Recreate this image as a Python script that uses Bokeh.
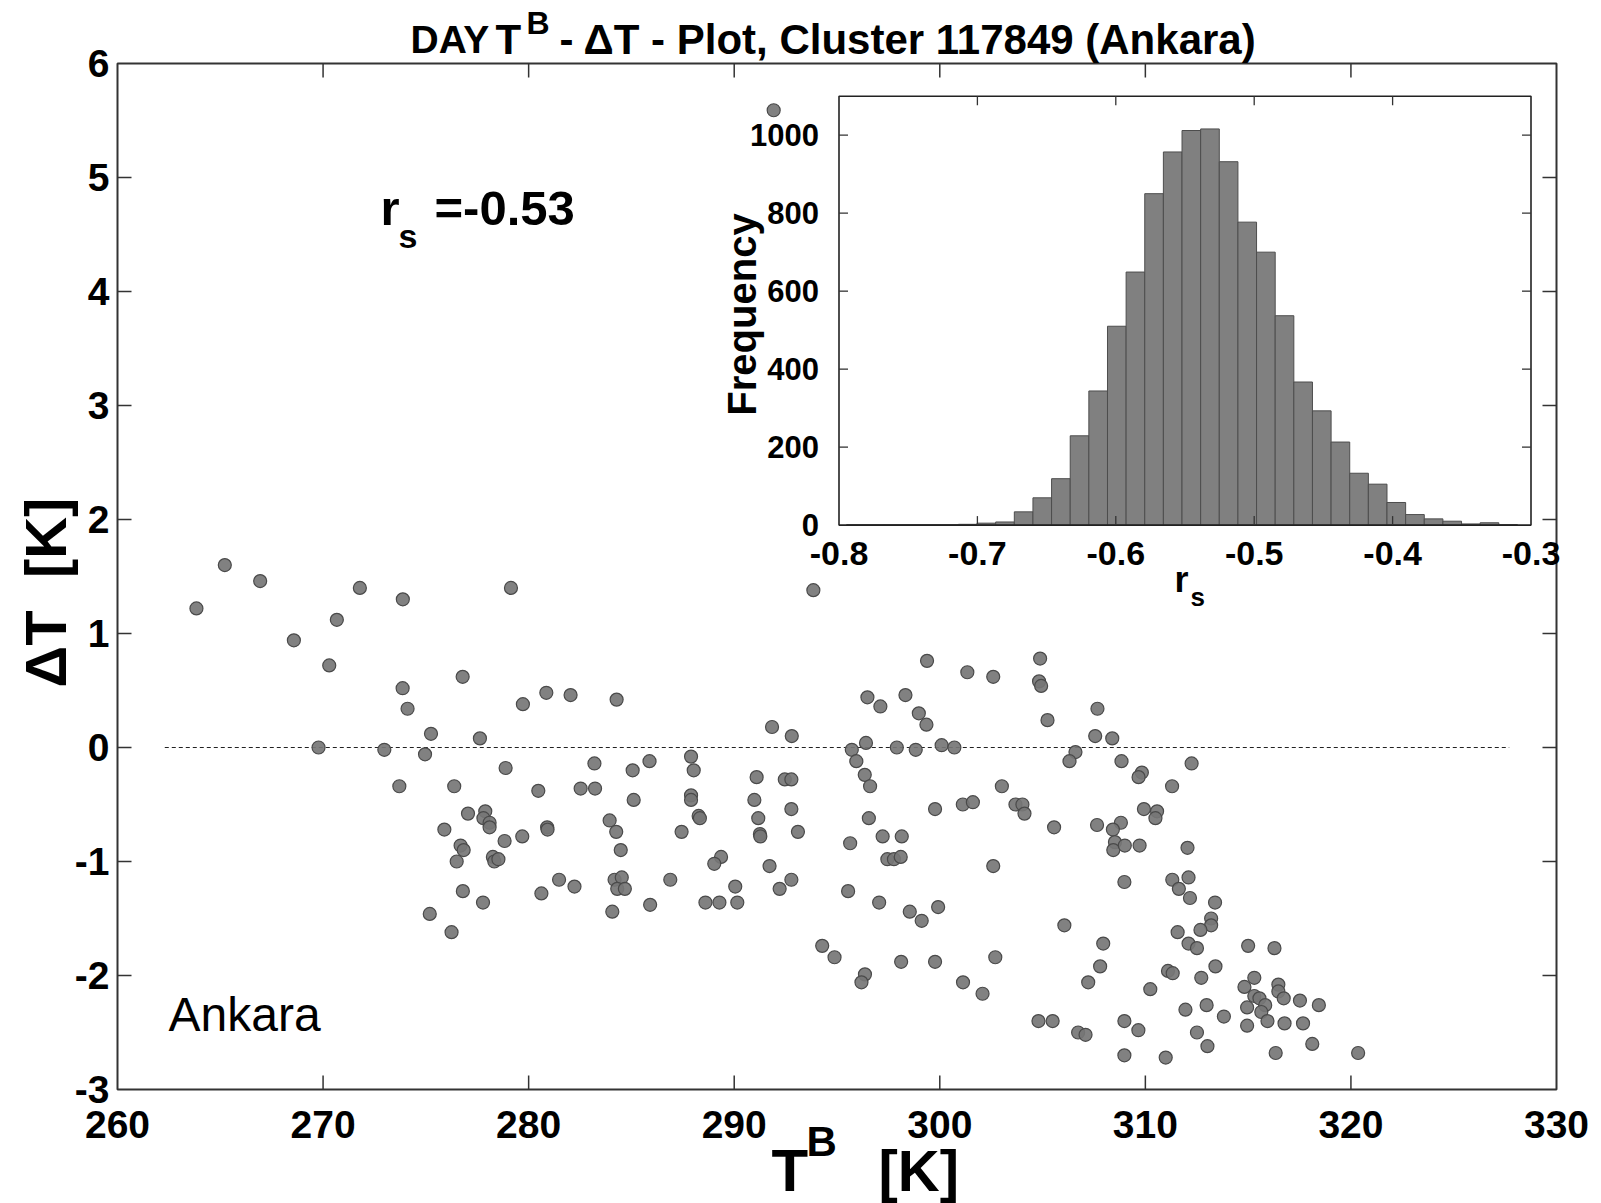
import numpy as np
from bokeh.plotting import figure
from bokeh.models import Range1d
from bokeh.core.properties import value
from bokeh.embed import file_html
from bokeh.resources import INLINE

# ---------------- data ----------------
tb = [263.84, 265.22, 266.94, 268.58, 270.67, 270.30, 271.79, 273.88, 269.78, 272.98,
      273.87, 274.11, 275.25, 274.96, 273.71, 276.79, 277.63, 279.14, 279.72, 280.86,
      278.88, 276.38, 280.47, 277.05, 277.89, 277.80, 278.10, 278.10, 275.90, 278.83,
      279.69, 276.69, 276.84, 276.50, 278.26, 278.33, 278.53, 280.90, 280.92, 276.80,
      277.78, 280.62, 275.19, 276.25,
      281.48, 282.23, 284.18, 284.53, 284.31, 284.68, 284.07, 285.91, 286.89,
      293.85, 282.04, 284.28, 283.20, 282.53, 283.23, 285.06, 285.88, 285.11, 283.94,
      284.26, 284.48, 287.90, 288.03, 287.90, 287.90, 288.27, 288.33, 287.44, 289.36,
      289.03, 288.60, 289.28, 290.15, 290.05, 291.09, 290.98, 291.17, 291.25, 291.27,
      291.84, 292.80, 292.46, 292.78, 292.78, 293.10, 291.72, 292.78, 292.21, 295.72,
      296.41, 295.94, 296.35, 296.61, 296.48, 297.11, 298.33, 298.98, 299.35, 299.38,
      301.34, 297.91, 298.83, 300.09, 300.71, 296.55, 295.64, 297.22, 298.15, 297.45,
      297.77, 298.10, 299.77, 301.12, 301.61, 295.54, 297.05, 298.54, 299.12, 299.92,
      302.60, 302.60,
      294.28, 294.88, 296.36, 296.19, 298.12, 299.77, 302.70, 301.13, 302.08, 304.80,
      305.49, 306.73, 307.09, 306.06, 307.95, 307.80, 307.22, 308.98, 308.98, 309.66,
      308.98, 310.99, 311.31, 312.10, 311.63, 312.17, 313.39, 313.20, 313.20, 312.68,
      311.57, 312.10, 312.51, 311.10, 311.33, 310.24, 312.72, 313.41, 311.95, 312.98,
      312.51, 313.02, 313.82, 315.00, 316.28, 314.82, 315.30, 315.30, 315.55, 315.83,
      315.64, 314.95, 314.95, 315.94, 316.47, 316.47, 316.73, 316.77, 317.52, 317.67,
      318.44, 316.34, 318.12, 320.35,
      304.88, 304.83, 304.93, 307.67, 305.24, 307.56, 308.39, 306.60, 306.31, 308.84,
      312.25, 309.83, 309.67, 311.30, 303.02, 303.68, 304.02, 304.12, 305.56, 307.65,
      309.93, 310.57, 310.49, 308.81, 308.42, 308.52, 308.44, 309.00, 309.72, 312.05,
      291.92]
dt = [1.22, 1.60, 1.46, 0.94, 1.12, 0.72, 1.40, 1.30, 0.00, -0.02,
      0.52, 0.34, 0.12, -0.06, -0.34, 0.62, 0.08, 1.40, 0.38, 0.48,
      -0.18, -0.34, -0.38, -0.58, -0.56, -0.62, -0.66, -0.70, -0.72, -0.82,
      -0.78, -0.86, -0.90, -1.00, -0.96, -1.00, -0.98, -0.70, -0.72, -1.26,
      -1.36, -1.28, -1.46, -1.62,
      -1.16, -1.22, -1.16, -1.14, -1.24, -1.24, -1.44, -1.38, -1.16,
      1.38, 0.46, 0.42, -0.14, -0.36, -0.36, -0.20, -0.12, -0.46, -0.64,
      -0.74, -0.90, -0.08, -0.20, -0.42, -0.46, -0.60, -0.62, -0.74, -0.96,
      -1.02, -1.36, -1.36, -1.36, -1.22, -0.26, -0.46, -0.62, -0.76, -0.78,
      0.18, 0.10, -0.28, -0.28, -0.54, -0.74, -1.04, -1.16, -1.24, -0.02,
      0.04, -0.12, -0.24, -0.34, 0.44, 0.36, 0.46, 0.30, 0.20, 0.76,
      0.66, 0.00, -0.02, 0.02, 0.00, -0.62, -0.84, -0.78, -0.78, -0.98,
      -0.98, -0.96, -0.54, -0.50, -0.48, -1.26, -1.36, -1.44, -1.52, -1.40,
      0.62, -1.04,
      -1.74, -1.84, -1.99, -2.06, -1.88, -1.88, -1.84, -2.06, -2.16, -2.40,
      -2.40, -2.50, -2.52, -1.56, -1.72, -1.92, -2.06, -1.18, -2.40, -2.48,
      -2.70, -2.72, -1.16, -1.14, -1.24, -1.32, -1.36, -1.50, -1.56, -1.60,
      -1.62, -1.72, -1.76, -1.96, -1.98, -2.12, -2.02, -1.92, -2.30, -2.26,
      -2.50, -2.62, -2.36, -1.74, -1.76, -2.10, -2.02, -2.18, -2.20, -2.26,
      -2.32, -2.28, -2.44, -2.40, -2.08, -2.14, -2.20, -2.42, -2.22, -2.42,
      -2.26, -2.68, -2.60, -2.68,
      0.78, 0.58, 0.54, 0.34, 0.24, 0.10, 0.08, -0.04, -0.12, -0.12,
      -0.14, -0.22, -0.26, -0.34, -0.34, -0.50, -0.50, -0.58, -0.70, -0.68,
      -0.54, -0.56, -0.62, -0.66, -0.72, -0.83, -0.90, -0.86, -0.86, -0.88,
      5.59]

x_lim = (260, 330)
y_lim = (-3, 6)
x_ticks = [260, 270, 280, 290, 300, 310, 320, 330]
x_tick_labels = ["260", "270", "280", "290", "300", "310", "320", "330"]
y_ticks = [-3, -2, -1, 0, 1, 2, 3, 4, 5, 6]
y_tick_labels = ["-3", "-2", "-1", "0", "1", "2", "3", "4", "5", "6"]
zero_line_x = [262.3, 327.7]
zero_line_y = [0.0, 0.0]
rs_text = "=-0.53"
city = "Ankara"
title_rest = "- \u0394T - Plot, Cluster 117849 (Ankara)"
y_label = "\u0394T\u00a0\u00a0[K]"

# inset histogram (bootstrap r_s distribution)
hist_counts = [1, 1, 1, 1, 1, 1, 2, 5, 8, 34, 70, 119, 229, 344, 510, 649, 850, 957,
               1012, 1016, 932, 777, 700, 537, 367, 293, 213, 133, 105, 58, 27, 16,
               10, 3, 6, 1]
hist_lo, hist_hi = -0.7945, -0.3098
hist_xlim = (-0.8, -0.3)
hist_ylim = (0, 1100)
hist_x_ticks = [-0.8, -0.7, -0.6, -0.5, -0.4, -0.3]
hist_x_tick_labels = ["-0.8", "-0.7", "-0.6", "-0.5", "-0.4", "-0.3"]
hist_y_ticks = [0, 200, 400, 600, 800, 1000]
hist_y_tick_labels = ["0", "200", "400", "600", "800", "1000"]

# ---------------- geometry (canvas px) ----------------
W, H = 1601, 1203
FL, FR, FT, FB = 117, 1556, 63, 1089          # main axes box
IL, IR, IT, IB = 838.5, 1530.5, 95.7, 524.6   # inset axes box

FONT = "Liberation Sans"
AX_COL = "#333333"

# main scales: the plotting frame covers the whole canvas, so nothing gets clipped
mx = (x_lim[1] - x_lim[0]) / (FR - FL)
my = (y_lim[1] - y_lim[0]) / (FB - FT)
p = figure(width=W, height=H, output_backend="svg", toolbar_location=None, title=None,
           x_range=Range1d(x_lim[0] - FL * mx, x_lim[1] + (W - FR) * mx),
           y_range=Range1d(y_lim[0] - (H - FB) * my, y_lim[1] + FT * my),
           x_axis_location=None, y_axis_location=None,
           min_border=0, min_border_left=0, min_border_right=0,
           min_border_top=0, min_border_bottom=0)
p.xgrid.visible = False
p.ygrid.visible = False
p.outline_line_color = None
p.background_fill_color = "white"
p.border_fill_color = "white"

hx_pp = (hist_xlim[1] - hist_xlim[0]) / (IR - IL)
hy_pp = (hist_ylim[1] - hist_ylim[0]) / (IB - IT)
p.extra_x_ranges = {"hx": Range1d(hist_xlim[0] - IL * hx_pp, hist_xlim[1] + (W - IR) * hx_pp),
                    "px": Range1d(0, W)}
p.extra_y_ranges = {"hy": Range1d(hist_ylim[0] - (H - IB) * hy_pp, hist_ylim[1] + IT * hy_pp),
                    "py": Range1d(H, 0)}

# ---------------- main axes box, ticks, tick labels ----------------
p.quad(left=[x_lim[0]], right=[x_lim[1]], bottom=[y_lim[0]], top=[y_lim[1]],
       fill_color=None, line_color=AX_COL, line_width=2)
mt = dict(length=14, length_units="screen", line_color=AX_COL, line_width=1.5)
ix = x_ticks[1:-1]
iy = y_ticks[1:-1]
p.ray(x=ix, y=[y_lim[0]] * len(ix), angle=np.pi / 2, **mt)
p.ray(x=ix, y=[y_lim[1]] * len(ix), angle=-np.pi / 2, **mt)
p.ray(x=[x_lim[0]] * len(iy), y=iy, angle=0.0, **mt)
p.ray(x=[x_lim[1]] * len(iy), y=iy, angle=np.pi, **mt)

bold = dict(text_font=value(FONT), text_font_style="bold", text_color="black")
p.text(x=x_ticks, y=[y_lim[0]] * len(x_ticks), text=x_tick_labels,
       text_font_size="39px", text_align="center", text_baseline="top", y_offset=21, **bold)
p.text(x=[x_lim[0]] * len(y_ticks), y=y_ticks, text=y_tick_labels,
       text_font_size="39px", text_align="right", text_baseline="middle", x_offset=-8, **bold)

# ---------------- main scatter ----------------
p.line(zero_line_x, zero_line_y, line_color="#222222", line_width=1.2, line_dash="4 3")
p.scatter(tb, dt, size=13, fill_color="#767676", fill_alpha=0.92,
          line_color="#4a4a4a", line_width=1.2)

# ---------------- inset histogram ----------------
edges = np.linspace(hist_lo, hist_hi, len(hist_counts) + 1)
p.quad(left=[hist_xlim[0]], right=[hist_xlim[1]], bottom=[hist_ylim[0]], top=[hist_ylim[1]],
       x_range_name="hx", y_range_name="hy", fill_color="white", line_color=None)
p.quad(left=edges[:-1], right=edges[1:], bottom=0, top=hist_counts,
       x_range_name="hx", y_range_name="hy",
       fill_color="#808080", line_color="#4d4d4d", line_width=1)
p.quad(left=[hist_xlim[0]], right=[hist_xlim[1]], bottom=[hist_ylim[0]], top=[hist_ylim[1]],
       x_range_name="hx", y_range_name="hy", fill_color=None,
       line_color="#222222", line_width=1.6)

hix = hist_x_ticks[1:-1]
hiy = hist_y_ticks[1:]
tk = dict(x_range_name="hx", y_range_name="hy", length=9, length_units="screen",
          line_color="#333333", line_width=1.3)
p.ray(x=hix, y=[hist_ylim[0]] * len(hix), angle=np.pi / 2, **tk)
p.ray(x=hix, y=[hist_ylim[1]] * len(hix), angle=-np.pi / 2, **tk)
p.ray(x=[hist_xlim[0]] * len(hiy), y=hiy, angle=0.0, **tk)
p.ray(x=[hist_xlim[1]] * len(hiy), y=hiy, angle=np.pi, **tk)

p.text(x=hist_x_ticks, y=[hist_ylim[0]] * len(hist_x_ticks), text=hist_x_tick_labels,
       x_range_name="hx", y_range_name="hy", text_font_size="34px", text_align="center",
       text_baseline="top", y_offset=17, **bold)
p.text(x=[hist_xlim[0]] * len(hist_y_ticks), y=hist_y_ticks, text=hist_y_tick_labels,
       x_range_name="hx", y_range_name="hy", text_font_size="31px", text_align="right",
       text_baseline="middle", x_offset=-20, **bold)


# ---------------- free texts, placed in canvas pixels ----------------
def txt(text, cx, cy, size, is_bold=True, angle=0.0, align="left", baseline="alphabetic"):
    p.text(x=[cx], y=[cy], text=[text], x_range_name="px", y_range_name="py",
           text_font=value(FONT), text_font_style="bold" if is_bold else "normal",
           text_font_size=f"{size}px", text_color="black", angle=angle,
           text_align=align, text_baseline=baseline)


# title
txt("DAY", 410, 39, 39)
txt("T", 495, 39, 42)
txt("B", 526, 22, 32)
txt(title_rest, 559, 39, 42)
# x label
txt("T", 771, 1170, 60)
txt("B", 806, 1141, 42)
txt("[K]", 878, 1170, 58)
# y label
txt(y_label, 45, 592, 58, angle=np.pi / 2, align="center")
# r_s annotation
txt("r", 380, 207, 49)
txt("s", 398, 235, 34)
txt(rs_text, 434, 207, 49)
# city
txt(city, 168, 1014, 48, is_bold=False)
# inset labels
txt("Frequency", 741, 314, 40, angle=np.pi / 2, align="center")
txt("r", 1174, 579, 36)
txt("s", 1190, 596, 26)

open("out.html", "w").write(file_html(p, INLINE))
